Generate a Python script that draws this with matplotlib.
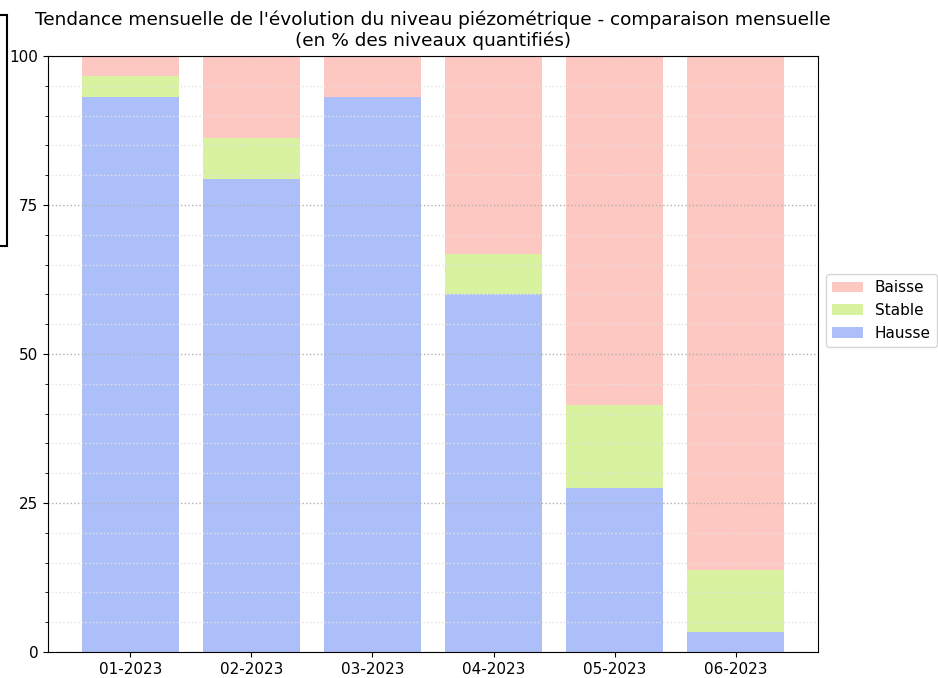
import matplotlib
matplotlib.use("Agg")
import matplotlib.pyplot as plt
from matplotlib.patches import Rectangle
from matplotlib.ticker import MultipleLocator
import numpy as np

months = ["01-2023", "02-2023", "03-2023", "04-2023", "05-2023", "06-2023"]
hausse = [93.1, 79.3, 93.1, 60.0, 27.6, 3.4]
stable = [3.5, 6.9, 0.0, 6.7, 13.8, 10.4]
baisse = [3.4, 13.8, 6.9, 33.3, 58.6, 86.2]

col_hausse = "#adbff8"
col_stable = "#d8f2a0"
col_baisse = "#fec8c2"

W, H, DPI = 938, 678, 100
fig = plt.figure(figsize=(W / DPI, H / DPI), dpi=DPI)
ax = fig.add_axes([48 / W, 1 - 652 / H, (818 - 48) / W, (652 - 56) / H])

x = np.arange(len(months))
h = np.array(hausse)
s = np.array(stable)
b = np.array(baisse)

bh = ax.bar(x, h, width=0.8, color=col_hausse, label="Hausse", zorder=1)
bs = ax.bar(x, s, width=0.8, bottom=h, color=col_stable, label="Stable", zorder=1)
bb = ax.bar(x, b, width=0.8, bottom=h + s, color=col_baisse, label="Baisse", zorder=1)

ax.set_ylim(0, 100)
ax.set_xlim(-0.68, 5.68)
ax.set_xticks(x)
ax.set_xticklabels(months, fontsize=11)
ax.yaxis.set_major_locator(MultipleLocator(25))
ax.yaxis.set_minor_locator(MultipleLocator(5))
ax.tick_params(axis="y", labelsize=11)
ax.set_axisbelow(False)
ax.grid(True, which="major", axis="y", linestyle=":", color="#b0b0b0", linewidth=1.0)
ax.grid(True, which="minor", axis="y", linestyle=":", color="#e2e2e2", linewidth=1.0)
for sp in ax.spines.values():
    sp.set_zorder(5)

ax.set_title("Tendance mensuelle de l'évolution du niveau piézométrique - comparaison mensuelle\n(en % des niveaux quantifiés)",
             fontsize=13.3, pad=7)

ax.legend(handles=[bb, bs, bh], labels=["Baisse", "Stable", "Hausse"],
          loc="upper left", bbox_to_anchor=(1.0104, 0.634), fontsize=11,
          borderaxespad=0.0)

# framed box at the left edge of the figure
fig.patches.append(Rectangle((-60 / W, 1 - 246 / H), 67 / W, 231 / H,
                             transform=fig.transFigure, fill=False,
                             edgecolor="black", linewidth=1.5))

fig.savefig("out.png", dpi=DPI)
